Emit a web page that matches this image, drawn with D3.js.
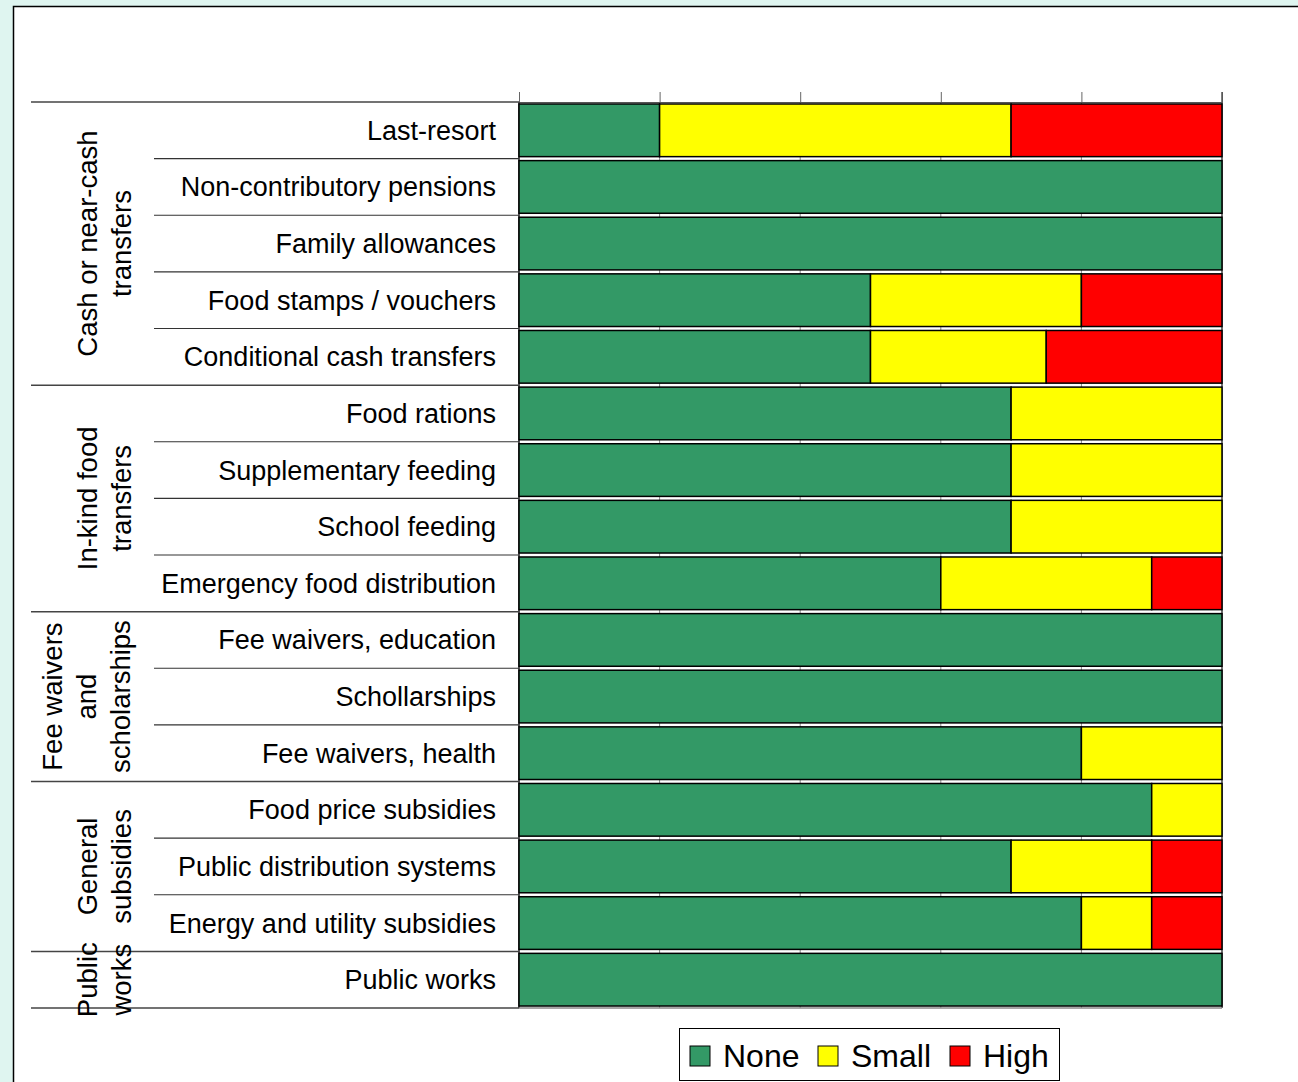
<!DOCTYPE html>
<html>
<head>
<meta charset="utf-8">
<script src="https://cdn.jsdelivr.net/npm/d3@7"></script>
<style>
  body { margin: 0; background: #dff5f0; }
  svg { display: block; font-family: "Liberation Sans", Arial, sans-serif; }
</style>
</head>
<body>
<svg id="chart"></svg>
<script>
// programmes, top to bottom
const programmes = [
  'Last-resort', 'Non-contributory pensions', 'Family allowances', 'Food stamps / vouchers',
  'Conditional cash transfers', 'Food rations', 'Supplementary feeding', 'School feeding',
  'Emergency food distribution', 'Fee waivers, education', 'Schollarships', 'Fee waivers, health',
  'Food price subsidies', 'Public distribution systems', 'Energy and utility subsidies', 'Public works'
];
// share (%) of each impact level
const noneVals  = [20, 100, 100, 50, 50, 70, 70, 70, 60, 100, 100, 80, 90, 70, 80, 100];
const smallVals = [50,   0,   0, 30, 25, 30, 30, 30, 30,   0,   0, 20, 10, 20, 10,   0];
const highVals  = [30,   0,   0, 20, 25,  0,  0,  0, 10,   0,   0,  0,  0, 10, 10,   0];

const levels = ['None', 'Small', 'High'];
const levelColors = ['#339966', '#ffff00', '#ff0000'];

// groups: label lines and number of rows
const groupLabels = [
  ['Cash or near-cash', 'transfers'],
  ['In-kind food', 'transfers'],
  ['Fee waivers', 'and', 'scholarships'],
  ['General', 'subsidies'],
  ['Public', 'works']
];
const groupSizes = [5, 4, 3, 3, 1];
const xTicks = [0, 20, 40, 60, 80, 100];

const W = 1298, H = 1082;
const svg = d3.select('#chart').attr('width', W).attr('height', H);

// white chart area with black left/top edge
svg.append('rect').attr('x', 13.5).attr('y', 6.5).attr('width', W).attr('height', H)
  .attr('fill', '#fff').attr('stroke', '#000').attr('stroke-width', 1.5);

const plot = { left: 519, right: 1222, top: 102, bottom: 1008 };

const x = d3.scaleLinear().domain([0, 100]).range([plot.left, plot.right]);
const y = d3.scaleBand().domain(programmes).range([plot.top, plot.bottom]).paddingInner(0.07).paddingOuter(0.035);
const yRow = d3.scaleBand().domain(programmes).range([plot.top, plot.bottom]);

// gridlines
svg.append('g').selectAll('line').data(xTicks).join('line')
  .attr('x1', d => x(d)).attr('x2', d => x(d))
  .attr('y1', plot.top).attr('y2', plot.bottom)
  .attr('stroke', '#888').attr('stroke-width', 1);

// top axis with outward ticks, no labels
const xAxis = d3.axisTop(x).tickValues(xTicks).tickSize(10).tickFormat('');
svg.append('g').attr('transform', `translate(0,${plot.top})`).call(xAxis)
  .call(g => g.select('.domain').attr('stroke', '#555'))
  .call(g => g.selectAll('.tick line').attr('stroke', '#666'));

// plot frame (left, right, bottom)
svg.append('line').attr('x1', plot.left).attr('x2', plot.left).attr('y1', plot.top).attr('y2', plot.bottom)
  .attr('stroke', '#333').attr('stroke-width', 1.5);
svg.append('line').attr('x1', plot.right).attr('x2', plot.right).attr('y1', plot.top - 10).attr('y2', plot.bottom)
  .attr('stroke', '#555').attr('stroke-width', 1.5);
svg.append('line').attr('x1', plot.left).attr('x2', plot.right).attr('y1', plot.bottom).attr('y2', plot.bottom)
  .attr('stroke', '#888').attr('stroke-width', 1.5);

// stacked bars
const rows = programmes.map((p, i) => ({ name: p, None: noneVals[i], Small: smallVals[i], High: highVals[i] }));
const series = d3.stack().keys(levels)(rows);

svg.append('g').selectAll('g').data(series).join('g')
  .attr('fill', (d, i) => levelColors[i])
  .selectAll('rect').data(d => d.filter(s => s[1] - s[0] > 0)).join('rect')
    .attr('x', d => x(d[0]))
    .attr('width', d => x(d[1]) - x(d[0]))
    .attr('y', d => y(d.data.name))
    .attr('height', y.bandwidth())
    .attr('stroke', '#000').attr('stroke-width', 1.5);

// row labels
svg.append('g').selectAll('text').data(programmes).join('text')
  .attr('x', 496)
  .attr('y', d => yRow(d) + yRow.bandwidth() / 2)
  .attr('dy', '0.35em')
  .attr('text-anchor', 'end')
  .attr('font-size', 27)
  .attr('fill', '#000')
  .text(d => d);

// separator lines
const groupStarts = [];
let acc = 0;
groupSizes.forEach(n => { groupStarts.push(acc); acc += n; });

const sepG = svg.append('g');
programmes.forEach((p, i) => {
  const yy = yRow(p);
  const isGroup = groupStarts.includes(i);
  sepG.append('line')
    .attr('x1', isGroup ? 31 : 154).attr('x2', plot.left)
    .attr('y1', yy).attr('y2', yy)
    .attr('stroke', isGroup ? '#444' : '#333').attr('stroke-width', isGroup ? 1.5 : 1.2);
});
sepG.append('line').attr('x1', 31).attr('x2', plot.left)
  .attr('y1', plot.bottom).attr('y2', plot.bottom)
  .attr('stroke', '#444').attr('stroke-width', 1.5);

// group labels, rotated
groupLabels.forEach((lines, gi) => {
  const first = programmes[groupStarts[gi]];
  const last = programmes[groupStarts[gi] + groupSizes[gi] - 1];
  const cy = (yRow(first) + yRow(last) + yRow.bandwidth()) / 2;
  const lineH = 34;
  const t = svg.append('text')
    .attr('transform', `translate(0,${cy}) rotate(-90)`)
    .attr('text-anchor', 'middle')
    .attr('font-size', 27.5)
    .attr('fill', '#000');
  lines.forEach((ln, li) => {
    t.append('tspan')
      .attr('x', 0)
      .attr('y', (lines.length === 3 ? 62 : 97) + li * lineH)
      .text(ln);
  });
});

// legend
const legend = svg.append('g');
legend.append('rect').attr('x', 679.5).attr('y', 1028.5).attr('width', 380).attr('height', 52)
  .attr('fill', '#fff').attr('stroke', '#000').attr('stroke-width', 1);
const legX = [690, 818, 950];
levels.forEach((lv, i) => {
  legend.append('rect').attr('x', legX[i]).attr('y', 1046).attr('width', 20).attr('height', 20)
    .attr('fill', levelColors[i]).attr('stroke', '#000').attr('stroke-width', 1);
  legend.append('text').attr('x', legX[i] + 33).attr('y', 1056).attr('dy', '0.35em')
    .attr('font-size', 32).attr('fill', '#000').text(lv);
});
</script>
</body>
</html>
